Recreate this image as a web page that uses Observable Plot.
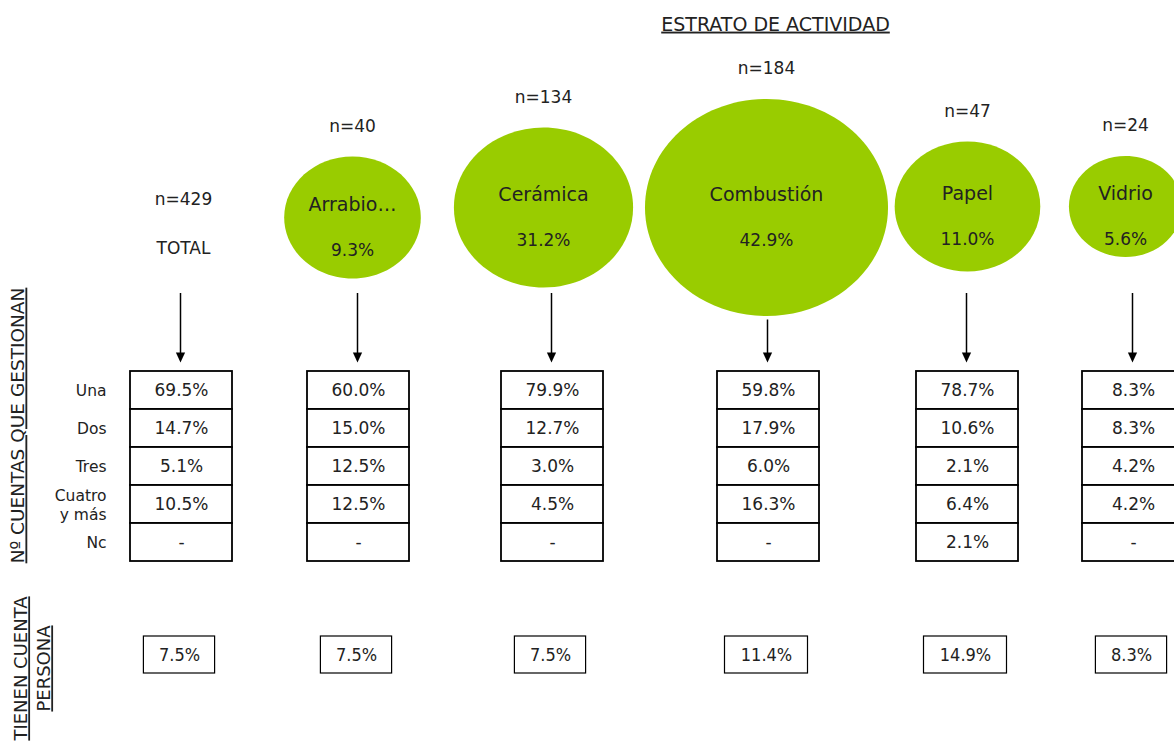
<!DOCTYPE html>
<html>
<head>
<meta charset="utf-8">
<script src="https://cdn.jsdelivr.net/npm/d3@7"></script>
<script src="https://cdn.jsdelivr.net/npm/@observablehq/plot@0.6"></script>
<style>
  body { margin: 0; background: #ffffff; }
  #chart svg { display: block; }
</style>
</head>
<body>
<div id="chart"></div>
<script>
// ---------- DATA ----------
const categories    = ["TOTAL", "Arrabio…", "Cerámica", "Combustión", "Papel", "Vidrio"];
const sampleN       = [429, 40, 134, 184, 47, 24];
const sharePct      = [null, 9.3, 31.2, 42.9, 11.0, 5.6];
const rowLabels     = ["Una", "Dos", "Tres", "Cuatro\ny más", "Nc"];
const pctUna        = [69.5, 60.0, 79.9, 59.8, 78.7, 8.3];
const pctDos        = [14.7, 15.0, 12.7, 17.9, 10.6, 8.3];
const pctTres       = [5.1, 12.5, 3.0, 6.0, 2.1, 4.2];
const pctCuatro     = [10.5, 12.5, 4.5, 16.3, 6.4, 4.2];
const pctNc         = [null, null, null, null, 2.1, null];
const cuentaPersona = [7.5, 7.5, 7.5, 11.4, 14.9, 8.3];
const titleText     = "ESTRATO DE ACTIVIDAD";
const sideLabel1    = "Nº CUENTAS QUE GESTIONAN";
const sideLabel2    = ["TIENEN CUENTA", "PERSONA"];

// ---------- LAYOUT (positions / sizes / styles) ----------
const layout = {
  colX: [181, 358, 552, 768, 967, 1133],
  bubbleX: [183, 352, 543, 766, 967, 1125],
  bubbleY: [207, 217, 207, 207, 206, 206],
  bubbleRange: [50.5, 61, 65, 80, 108.5],
  nGap: 30, nameDy: -13, pctDy: 33,
  tableTop: 371, rowH: 38, cellW: 102,
  boxTop: 636, boxBottom: 673,
  arrowTop: 293, arrowTip: 362,
  rowLabelX: 106,
  titleX: 775, titleY: 24,
  side1: {x: 18, y: 425}, side2: [{x: 21, y: 668}, {x: 44, y: 668}]
};
const green = "#99cc00";
const ink = "#222222";
const fmt = v => v == null ? "-" : v.toFixed(1) + "%";

// ---------- DERIVED TABLES ----------
const rowSeries = [pctUna, pctDos, pctTres, pctCuatro, pctNc];
const bubbleIdx = d3.range(1, categories.length);
const rDomain = bubbleIdx.map(i => sampleN[i]).sort((a, b) => a - b);
const rScale = d3.scaleLinear(rDomain, layout.bubbleRange);

const bubbles = bubbleIdx.map(i => ({
  i, name: categories[i], n: sampleN[i], share: sharePct[i],
  x: layout.bubbleX[i], y: layout.bubbleY[i], ry: rScale(sampleN[i])
}));
const cols = categories.map((c, i) => {
  const bottom = i === 0 ? 0 : layout.bubbleY[i] + rScale(sampleN[i]) + 4;
  return {i, x: layout.colX[i] - 1, top: Math.max(layout.arrowTop, bottom)};
});
const cells = categories.flatMap((c, i) => rowSeries.map((s, j) => ({
  i, j, v: s[i],
  x1: layout.colX[i] - layout.cellW / 2, x2: layout.colX[i] + layout.cellW / 2,
  y1: layout.tableTop + j * layout.rowH, y2: layout.tableTop + (j + 1) * layout.rowH
})));
const rows = rowLabels.map((r, j) => ({label: r, y: layout.tableTop + (j + 0.5) * layout.rowH}));
const boxes = categories.map((c, i) => {
  const label = fmt(cuentaPersona[i]);
  const w = 24 + label.length * 11.8;
  return {label, x: layout.colX[i] - 2, x1: layout.colX[i] - 2 - w / 2, x2: layout.colX[i] - 2 + w / 2};
});
const totalText = [
  {t: "n=" + sampleN[0], y: layout.bubbleY[0] - 8},
  {t: categories[0], y: layout.bubbleY[0] + 41}
];

// ---------- SYMBOLS ----------
const ellipse = {
  draw(ctx, size) {
    const r = Math.sqrt(size / Math.PI), rx = r * 1.12, ry = r, k = 0.5523;
    ctx.moveTo(rx, 0);
    ctx.bezierCurveTo(rx, k * ry, k * rx, ry, 0, ry);
    ctx.bezierCurveTo(-k * rx, ry, -rx, k * ry, -rx, 0);
    ctx.bezierCurveTo(-rx, -k * ry, -k * rx, -ry, 0, -ry);
    ctx.bezierCurveTo(k * rx, -ry, rx, -k * ry, rx, 0);
    ctx.closePath();
  }
};
const arrowHead = {
  draw(ctx, size) {
    const r = Math.sqrt(size / Math.PI);
    ctx.moveTo(-r, -1.1 * r);
    ctx.lineTo(r, -1.1 * r);
    ctx.lineTo(0, 1.1 * r);
    ctx.closePath();
  }
};

const font = "DejaVu Sans";
const narrow = "'Liberation Sans Narrow', 'DejaVu Sans Condensed', sans-serif";

const chart = Plot.plot({
  width: 1174,
  height: 745,
  margin: 0,
  x: {domain: [0, 1174], range: [0, 1174], axis: null},
  y: {domain: [0, 745], range: [0, 745], axis: null},
  r: {type: "linear", domain: rDomain, range: layout.bubbleRange},
  style: {fontFamily: font, background: "#ffffff", color: ink},
  marks: [
    // title
    Plot.text([titleText], {x: layout.titleX, y: layout.titleY, text: d => d, fontSize: 19, fill: ink}),
    // side labels
    Plot.text([sideLabel1], {x: layout.side1.x, y: layout.side1.y, text: d => d, rotate: -90, fontSize: 18.5, fill: ink}),
    Plot.text(sideLabel2, {x: (d, k) => layout.side2[k].x, y: (d, k) => layout.side2[k].y, text: d => d, rotate: -90, fontSize: 18, fill: ink}),
    // bubbles
    Plot.dot(bubbles, {x: "x", y: "y", r: "n", symbol: ellipse, fill: green, stroke: "none"}),
    Plot.text(bubbles, {x: "x", y: d => d.y - d.ry - layout.nGap, text: d => "n=" + d.n, fontSize: 17, fill: ink}),
    Plot.text(bubbles, {x: "x", y: d => d.y + layout.nameDy, text: "name", fontSize: 19, fill: ink}),
    Plot.text(bubbles, {x: "x", y: d => d.y + layout.pctDy, text: d => fmt(d.share), fontSize: 17, fill: ink}),
    // total column header
    Plot.text(totalText, {x: layout.bubbleX[0], y: "y", text: "t", fontSize: 17, fill: ink}),
    // arrows
    Plot.ruleX(cols, {x: "x", y1: "top", y2: layout.arrowTip - 9, stroke: "#000", strokeWidth: 1.5}),
    Plot.dot(cols, {x: "x", y: layout.arrowTip - 5, r: 4.6, symbol: arrowHead, fill: "#000", stroke: "none"}),
    // table
    Plot.rect(cells, {x1: "x1", x2: "x2", y1: "y1", y2: "y2", fill: "#fff", stroke: "#000", strokeWidth: 1.8}),
    Plot.text(cells, {x: d => (d.x1 + d.x2) / 2, y: d => (d.y1 + d.y2) / 2, text: d => fmt(d.v), fontSize: 17, fill: ink}),
    Plot.text(rows, {x: layout.rowLabelX, y: "y", text: "label", textAnchor: "end", fontSize: 15.5, lineHeight: 1.2, fill: ink}),
    // bottom boxes
    Plot.rect(boxes, {x1: "x1", x2: "x2", y1: layout.boxTop, y2: layout.boxBottom, fill: "#fff", stroke: "#000", strokeWidth: 1.2}),
    Plot.text(boxes, {x: "x", y: (layout.boxTop + layout.boxBottom) / 2, text: "label", fontSize: 18, fontFamily: narrow, fill: ink})
  ]
});

// underline the header labels
const underlined = new Set([titleText, sideLabel1, ...sideLabel2]);
chart.querySelectorAll("text").forEach(t => {
  if (underlined.has(t.textContent.trim())) {
    t.setAttribute("text-decoration", "underline");
    t.style.textDecoration = "underline";
  }
});
document.getElementById("chart").appendChild(chart);
</script>
</body>
</html>
